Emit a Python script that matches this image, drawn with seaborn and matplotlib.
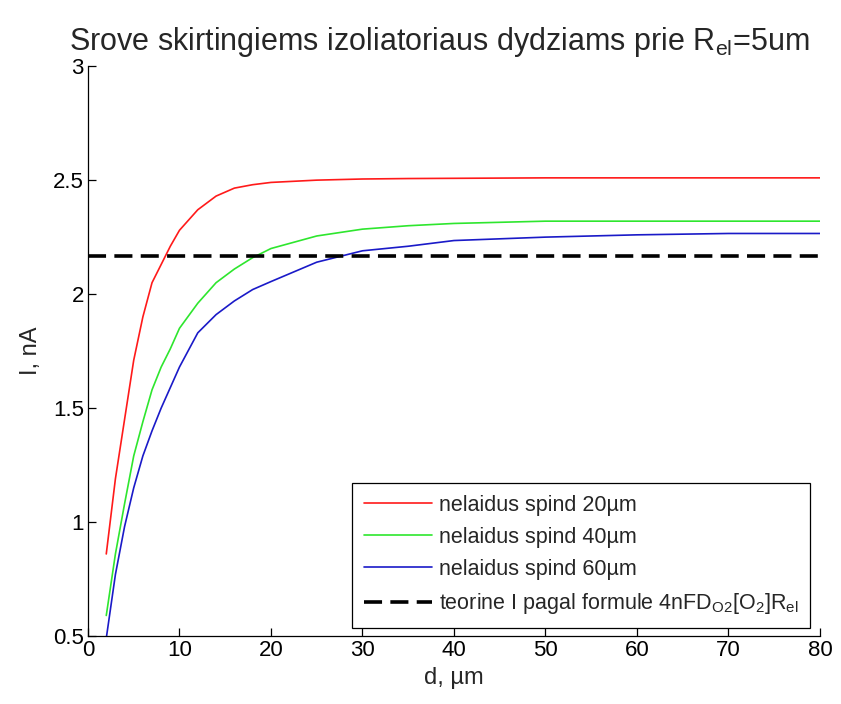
import matplotlib
matplotlib.use("Agg")
import matplotlib.pyplot as plt
import seaborn as sns
import pandas as pd

d_um = [2, 3, 4, 5, 6, 7, 8, 9, 10, 12, 14, 16, 18, 20, 25, 30, 35, 40, 50, 60, 70, 80]
i_20 = [0.86, 1.19, 1.45, 1.71, 1.90, 2.05, 2.13, 2.21, 2.28, 2.37, 2.43, 2.465, 2.48, 2.49,
        2.50, 2.505, 2.507, 2.508, 2.51, 2.51, 2.51, 2.51]
i_40 = [0.59, 0.86, 1.08, 1.29, 1.44, 1.58, 1.68, 1.76, 1.85, 1.96, 2.05, 2.11, 2.16, 2.20,
        2.255, 2.285, 2.30, 2.31, 2.32, 2.32, 2.32, 2.32]
i_60 = [0.49, 0.77, 0.98, 1.15, 1.29, 1.40, 1.50, 1.59, 1.68, 1.83, 1.91, 1.97, 2.02, 2.055,
        2.14, 2.19, 2.21, 2.235, 2.25, 2.26, 2.266, 2.266]
theory_x = [0, 80]
theory_y = [2.165, 2.165]

labels = ["nelaidus spind 20\u00b5m", "nelaidus spind 40\u00b5m", "nelaidus spind 60\u00b5m"]
theory_label = r"teorine I pagal formule 4nFD$_{O2}$[O$_2$]R$_{el}$"
colors = ["#ff1a1a", "#2ee62e", "#1a1ac8"]

sns.set_style("ticks")
plt.rcParams["font.family"] = ["Liberation Sans", "DejaVu Sans"]
plt.rcParams["mathtext.default"] = "regular"
plt.rcParams["xtick.direction"] = "in"
plt.rcParams["ytick.direction"] = "in"

df = pd.DataFrame({
    "d": d_um * 3,
    "I": i_20 + i_40 + i_60,
    "series": [labels[0]] * len(d_um) + [labels[1]] * len(d_um) + [labels[2]] * len(d_um),
})
df_th = pd.DataFrame({"d": theory_x, "I": theory_y})

fig = plt.figure(figsize=(8.41, 7.04), dpi=100)
ax = fig.add_axes([0.1046, 0.0966, 0.8704, 0.8094])

sns.lineplot(data=df, x="d", y="I", hue="series", palette=colors, linewidth=1.2, ax=ax,
             legend=False)
sns.lineplot(data=df_th, x="d", y="I", color="black", linewidth=2.6, ax=ax,
             linestyle=(0, (5, 2.3)), legend=False)

ax.set_xlim(0, 80)
ax.set_ylim(0.5, 3)
ax.set_xticks(range(0, 81, 10))
ax.set_yticks([0.5, 1, 1.5, 2, 2.5, 3])
ax.set_yticklabels(["0.5", "1", "1.5", "2", "2.5", "3"])
ax.tick_params(labelsize=16, length=6, width=0.9, colors="black", pad=3)
sns.despine(ax=ax)
for s in ["left", "bottom"]:
    ax.spines[s].set_linewidth(0.9)
    ax.spines[s].set_color("black")

ax.set_xlabel("d, \u00b5m", fontsize=17, labelpad=4)
ax.set_ylabel("I, nA", fontsize=17, labelpad=8)
ax.set_title(r"Srove skirtingiems izoliatoriaus dydziams prie R$_{el}$=5um", fontsize=22,
             pad=12, x=0.48)

handles = ax.get_lines()
leg = ax.legend(handles, labels + [theory_label], loc="lower right",
                bbox_to_anchor=(0.987, 0.014), borderaxespad=0, fontsize=15.5, frameon=True,
                fancybox=False, edgecolor="black", framealpha=1, handlelength=3.2,
                handletextpad=0.3, borderpad=0.55, labelspacing=0.52)
leg.get_frame().set_linewidth(0.9)

fig.savefig("out.png", dpi=100)
